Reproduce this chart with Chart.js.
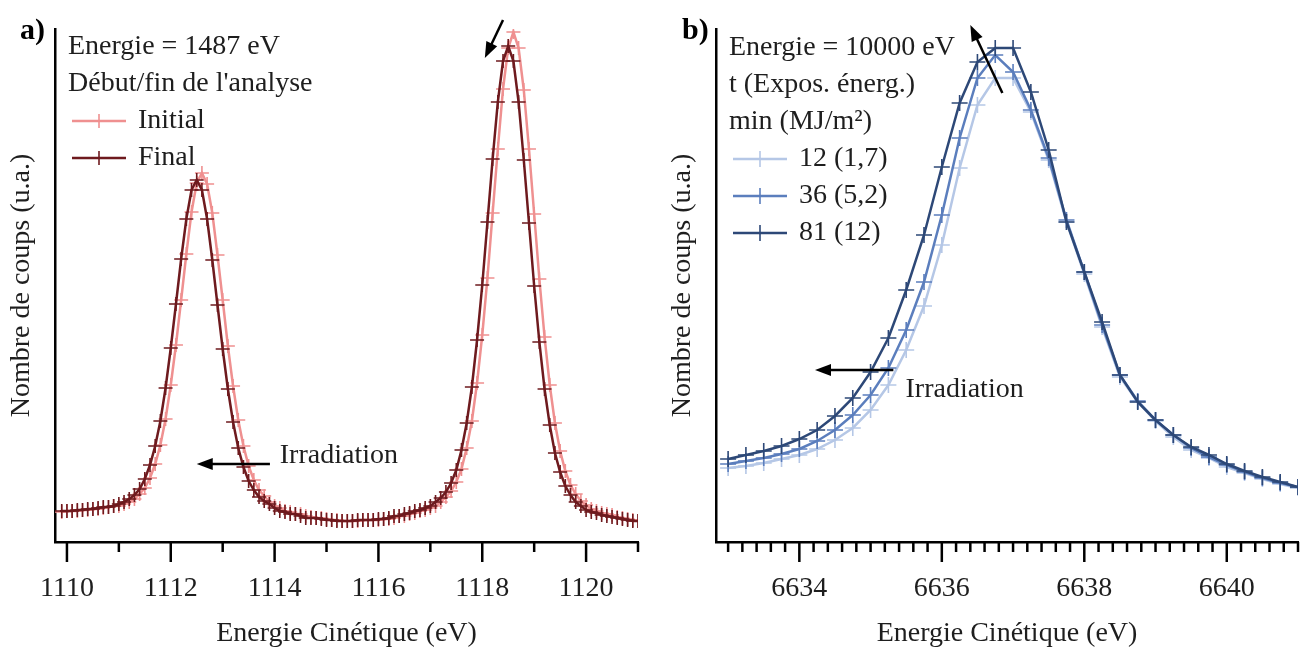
<!DOCTYPE html>
<html>
<head>
<meta charset="utf-8">
<script src="https://cdn.jsdelivr.net/npm/chart.js@4"></script>
<style>
body { margin: 0; background: #fff; }
canvas { position: absolute; top: 0; }
#chartA { left: 0; }
#chartB { left: 655px; }
</style>
</head>
<body>
<canvas id="chartA" width="655" height="650"></canvas>
<canvas id="chartB" width="654" height="650"></canvas>
<script>
// a) Energie = 1487 eV : debut / fin de l'analyse (pas de 0,1 eV)
const energyStartA = 1109.9, energyStepA = 0.1;
const initialA = [
  30,31,31,31,32,32,33,33,34,35,
  36,36,38,40,43,48,54,64,78,97,
  123,157,197,242,288,330,359,369,358,329,
  287,242,196,156,122,96,76,62,52,46,
  40,36,34,31,30,28,28,26,25,24,
  24,23,22,22,21,21,21,21,22,22,
  22,22,23,23,24,26,26,28,29,31,
  32,34,36,40,45,51,60,73,94,121,
  159,207,264,329,393,453,494,510,494,452,
  393,328,263,205,157,119,91,71,57,48,
  41,37,33,31,29,28,27,25,24,23,
  22,21
];
const finalA = [
  31,31,31,32,32,33,33,34,35,35,
  36,38,40,43,47,53,63,77,96,121,
  154,194,238,283,323,352,362,352,323,282,
  237,193,153,120,94,75,61,52,45,41,
  38,34,31,30,28,28,26,24,24,24,
  23,22,22,21,21,21,21,22,22,22,
  22,23,23,24,26,26,28,29,31,32,
  34,36,40,44,50,59,72,92,119,155,
  202,257,320,383,440,481,496,481,440,382,
  319,256,200,153,117,89,70,56,47,40,
  36,32,30,29,27,26,25,24,23,22,
  21,21
];
const ticksA = [1110, 1112, 1114, 1116, 1118, 1120];

// b) Energie = 10000 eV : trois durees d'exposition (pas de 0,25 eV)
const energyStartB = 6633.0, energyStepB = 0.25;
const expo12 = [74,76,79,83,87,93,102,114,132,157,192,236,297,374,437,464,464,430,382,320,268,215,165,140,121,105,92,84,75,69,63,58,54];
const expo36 = [78,81,84,88,93,101,112,127,147,174,212,260,327,404,464,487,470,432,384,322,270,217,167,141,122,107,94,85,77,70,64,59,55];
const expo81 = [83,87,91,96,103,112,126,144,170,204,252,307,375,439,480,494,494,450,392,320,270,220,167,140,122,107,95,87,78,71,65,60,55];
const ticksB = [6634, 6636, 6638, 6640];

const FONT = 'Liberation Serif';
const SIZE = 28;
const TXT = '#1e1e1e';

function pts(start, step, values) {
  return values.map((v, i) => ({ x: +(start + i * step).toFixed(2), y: v }));
}

function serie(label, data, color, order, r) {
  return {
    label, data, order,
    borderColor: color, backgroundColor: color,
    borderWidth: 2.5, tension: 0, fill: false,
    pointStyle: 'cross', pointRadius: r, pointHoverRadius: r, pointBorderWidth: 1.6
  };
}

function arrow(ctx, x1, y1, x2, y2) {
  const a = Math.atan2(y2 - y1, x2 - x1), h = 16, w = 6;
  ctx.beginPath();
  ctx.moveTo(x1, y1);
  ctx.lineTo(x2 - h * 0.8 * Math.cos(a), y2 - h * 0.8 * Math.sin(a));
  ctx.stroke();
  ctx.beginPath();
  ctx.moveTo(x2, y2);
  ctx.lineTo(x2 - h * Math.cos(a) + w * Math.sin(a), y2 - h * Math.sin(a) - w * Math.cos(a));
  ctx.lineTo(x2 - h * Math.cos(a) - w * Math.sin(a), y2 - h * Math.sin(a) + w * Math.cos(a));
  ctx.closePath();
  ctx.fill();
}

// graduations, fleches, legende et etiquette du panneau
function decor(cfg) {
  return {
    id: 'decor',
    afterDraw(chart) {
      const { ctx, chartArea } = chart;
      const sx = chart.scales.x, sy = chart.scales.y;
      ctx.save();
      ctx.strokeStyle = '#000';
      ctx.fillStyle = '#000';
      ctx.lineWidth = 2.5;
      const n = Math.round((cfg.tickEnd - cfg.tickStart) / cfg.minor);
      for (let i = 0; i <= n; i++) {
        const v = cfg.tickStart + i * cfg.minor;
        const major = cfg.majors.some(m => Math.abs(m - v) < 1e-6);
        const px = sx.getPixelForValue(v);
        ctx.beginPath();
        ctx.moveTo(px, chartArea.bottom);
        ctx.lineTo(px, chartArea.bottom + (major ? 20 : 10));
        ctx.stroke();
      }
      cfg.arrows.forEach(a => arrow(ctx,
        sx.getPixelForValue(a[0]), sy.getPixelForValue(a[1]),
        sx.getPixelForValue(a[2]), sy.getPixelForValue(a[3])));

      ctx.font = `${SIZE}px "${FONT}"`;
      ctx.fillStyle = TXT;
      ctx.textBaseline = 'middle';
      ctx.textAlign = 'left';
      cfg.notes.forEach(t => ctx.fillText(t.text, sx.getPixelForValue(t.x), sy.getPixelForValue(t.y)));

      const lx = cfg.legendX, ly = cfg.legendY, gap = cfg.legendGap;
      cfg.header.forEach((t, i) => ctx.fillText(t, lx, ly + i * gap));
      chart.data.datasets.forEach((ds, i) => {
        const y = ly + (cfg.header.length + i) * gap;
        ctx.strokeStyle = ds.borderColor;
        ctx.lineWidth = 2.5;
        ctx.beginPath(); ctx.moveTo(lx + 4, y); ctx.lineTo(lx + 58, y); ctx.stroke();
        ctx.lineWidth = 1.6;
        ctx.beginPath();
        ctx.moveTo(lx + 31, y - ds.pointRadius); ctx.lineTo(lx + 31, y + ds.pointRadius);
        ctx.stroke();
        ctx.fillStyle = TXT;
        ctx.fillText(ds.label, lx + 70, y);
      });

      ctx.font = `bold 30px "${FONT}"`;
      ctx.fillStyle = '#000';
      ctx.fillText(cfg.panel, cfg.panelX, 31);
      ctx.restore();
    }
  };
}

function options(xMin, xMax, ticks, yWidth, padRight, yTitlePad) {
  const font = { family: FONT, size: SIZE };
  return {
    responsive: false,
    animation: false,
    events: [],
    layout: { padding: { top: 29, right: padRight, left: 0, bottom: 0 } },
    plugins: { legend: { display: false }, tooltip: { enabled: false } },
    scales: {
      x: {
        type: 'linear', min: xMin, max: xMax,
        afterBuildTicks: s => { s.ticks = ticks.map(v => ({ value: v })); },
        afterFit: s => { s.height = 108; },
        grid: { display: true, drawOnChartArea: false, drawTicks: false },
        border: { display: true, color: '#000', width: 2.5 },
        ticks: { color: TXT, font, padding: 30, maxRotation: 0, autoSkip: false, callback: v => String(v) },
        title: { display: true, text: 'Energie Cinétique (eV)', color: TXT, font, padding: { top: 0, bottom: 0 } }
      },
      y: {
        min: 0, max: 513,
        afterFit: s => { s.width = yWidth; },
        grid: { display: true, drawOnChartArea: false, drawTicks: false },
        border: { display: true, color: '#000', width: 2.5 },
        ticks: { display: false },
        title: { display: true, text: 'Nombre de coups (u.a.)', color: TXT, font, padding: { top: yTitlePad, bottom: 0 } }
      }
    }
  };
}

new Chart(document.getElementById('chartA'), {
  type: 'line',
  data: {
    datasets: [
      serie('Initial', pts(energyStartA, energyStepA, initialA), '#ef9090', 1, 7),
      serie('Final', pts(energyStartA, energyStepA, finalA), '#6e1a1e', 0, 7)
    ]
  },
  options: options(1109.77, 1121.0, ticksA, 55, 17, 5),
  plugins: [decor({
    panel: 'a)', panelX: 20,
    tickStart: 1110, tickEnd: 1121, minor: 1, majors: ticksA,
    arrows: [[1113.91, 78, 1112.5, 78], [1118.4, 522, 1118.05, 484]],
    notes: [{ text: 'Irradiation', x: 1114.1, y: 86 }],
    header: ['Energie = 1487 eV', "Début/fin de l'analyse"],
    legendX: 68, legendY: 47, legendGap: 37
  })]
});

new Chart(document.getElementById('chartB'), {
  type: 'line',
  data: {
    datasets: [
      serie('12 (1,7)', pts(energyStartB, energyStepB, expo12), '#b5c7e6', 2, 8),
      serie('36 (5,2)', pts(energyStartB, energyStepB, expo36), '#5b7ebd', 1, 8),
      serie('81 (12)', pts(energyStartB, energyStepB, expo81), '#2d4877', 0, 8)
    ]
  },
  options: options(6632.83, 6641.0, ticksB, 61, 11, 11),
  plugins: [decor({
    panel: 'b)', panelX: 27,
    tickStart: 6633, tickEnd: 6641, minor: 0.2, majors: ticksB,
    arrows: [[6635.32, 172, 6634.22, 172], [6636.85, 449, 6636.4, 517]],
    notes: [{ text: 'Irradiation', x: 6635.49, y: 152 }],
    header: ['Energie = 10000 eV', 't (Expos. énerg.)', 'min (MJ/m²)'],
    legendX: 74, legendY: 48, legendGap: 37
  })]
});
</script>
</body>
</html>
